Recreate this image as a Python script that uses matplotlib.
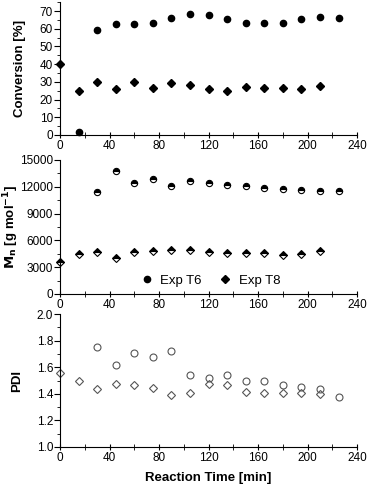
import matplotlib
matplotlib.use("Agg")
import matplotlib.pyplot as plt
from matplotlib.ticker import MultipleLocator
from matplotlib.lines import Line2D

plt.rcParams['font.family'] = ['Liberation Sans', 'DejaVu Sans']

# reaction time [min]
t_t6 = [15, 30, 45, 60, 75, 90, 105, 120, 135, 150, 165, 180, 195, 210, 225]
t_t8 = [0, 15, 30, 45, 60, 75, 90, 105, 120, 135, 150, 165, 180, 195, 210]

conv_t6 = [1.5, 59.1, 62.8, 62.8, 63.2, 65.9, 68.3, 67.5, 65.3, 63.2, 63.2, 63.2, 65.7, 66.6, 66.0]
conv_t8 = [40.3, 25.1, 30.0, 25.9, 29.8, 26.3, 29.1, 28.0, 26.1, 25.1, 27.0, 26.8, 26.8, 26.1, 27.6]

# Mn: no value for T6 at 15 min
t_mn_t6 = [30, 45, 60, 75, 90, 105, 120, 135, 150, 165, 180, 195, 210, 225]
mn_t6 = [11380, 13730, 12390, 12840, 12090, 12610, 12430, 12240, 12090, 11830, 11720, 11640, 11530, 11570]
mn_t8 = [3580, 4510, 4700, 4030, 4740, 4810, 4960, 4930, 4700, 4590, 4590, 4550, 4400, 4440, 4780]

t_pdi_t6 = [30, 45, 60, 75, 90, 105, 120, 135, 150, 165, 180, 195, 210, 225]
pdi_t6 = [1.75, 1.62, 1.71, 1.68, 1.72, 1.54, 1.52, 1.54, 1.50, 1.495, 1.47, 1.45, 1.44, 1.38]
pdi_t8 = [1.56, 1.50, 1.435, 1.475, 1.47, 1.445, 1.395, 1.405, 1.475, 1.47, 1.415, 1.405, 1.41, 1.41, 1.40]

fig = plt.figure(figsize=(3.67, 4.9), dpi=100)
ax1 = fig.add_axes([0.1635, 0.7245, 0.8095, 0.271])
ax2 = fig.add_axes([0.1635, 0.400, 0.8095, 0.2735])
ax3 = fig.add_axes([0.1635, 0.0878, 0.8095, 0.271])

lbl = dict(fontsize=9.5, fontweight='bold')

for ax in (ax1, ax2, ax3):
    ax.spines['top'].set_visible(False)
    ax.spines['right'].set_visible(False)
    ax.set_xlim(0, 240)
    ax.xaxis.set_major_locator(MultipleLocator(40))
    ax.xaxis.set_minor_locator(MultipleLocator(20))
    ax.tick_params(axis='x', which='both', direction='inout', labelsize=8.5, pad=1)
    ax.tick_params(axis='x', which='major', length=5)
    ax.tick_params(axis='x', which='minor', length=4)
    ax.tick_params(axis='y', which='both', direction='out', labelsize=8.5, pad=1)
    ax.tick_params(axis='y', which='major', length=4)
    ax.tick_params(axis='y', which='minor', length=2.5)

# conversion
ax1.plot(t_t6, conv_t6, 'o', color='black', ms=4.5, clip_on=False)
ax1.plot(t_t8, conv_t8, 'D', color='black', ms=4, clip_on=False)
ax1.set_ylim(0, 75)
ax1.yaxis.set_major_locator(MultipleLocator(10))
ax1.yaxis.set_minor_locator(MultipleLocator(5))
ax1.set_ylabel('Conversion [%]', **lbl)
ax1.yaxis.set_label_coords(-0.115, 0.5)

# Mn
ax2.plot(t_mn_t6, mn_t6, 'o', color='black', mfc='black', mfcalt='white',
         fillstyle='top', mec='black', mew=0.8, ms=4.5, clip_on=False)
ax2.plot(t_t8, mn_t8, 'D', color='black', mfc='black', mfcalt='white',
         fillstyle='top', mec='black', mew=0.8, ms=4, clip_on=False)
ax2.set_ylim(0, 15000)
ax2.yaxis.set_major_locator(MultipleLocator(3000))
ax2.yaxis.set_minor_locator(MultipleLocator(1500))
ax2.set_ylabel(r'$\mathbf{M_n}$ [g mol$^{\mathbf{-1}}$]', **lbl)
ax2.yaxis.set_label_coords(-0.13, 0.5)

handles = [Line2D([], [], ls='none', marker='o', color='black', ms=4.5),
           Line2D([], [], ls='none', marker='D', color='black', ms=4)]
ax2.legend(handles, ['Exp T6', 'Exp T8'], loc='center', bbox_to_anchor=(0.5, 0.1),
           ncol=2, frameon=False, fontsize=9.5, handletextpad=0.3, columnspacing=1.0,
           handlelength=1.5)

# PDI
ax3.plot(t_pdi_t6, pdi_t6, 'o', mfc='none', mec='#555555', mew=0.8, ms=5, clip_on=False)
ax3.plot(t_t8, pdi_t8, 'D', mfc='none', mec='#555555', mew=0.8, ms=4.5, clip_on=False)
ax3.set_ylim(1.0, 2.0)
ax3.yaxis.set_major_locator(MultipleLocator(0.2))
ax3.yaxis.set_minor_locator(MultipleLocator(0.1))
ax3.set_ylabel('PDI', **lbl)
ax3.yaxis.set_label_coords(-0.125, 0.5)
ax3.set_xlabel('Reaction Time [min]', labelpad=6, **lbl)

fig.savefig('out.png', dpi=100)
